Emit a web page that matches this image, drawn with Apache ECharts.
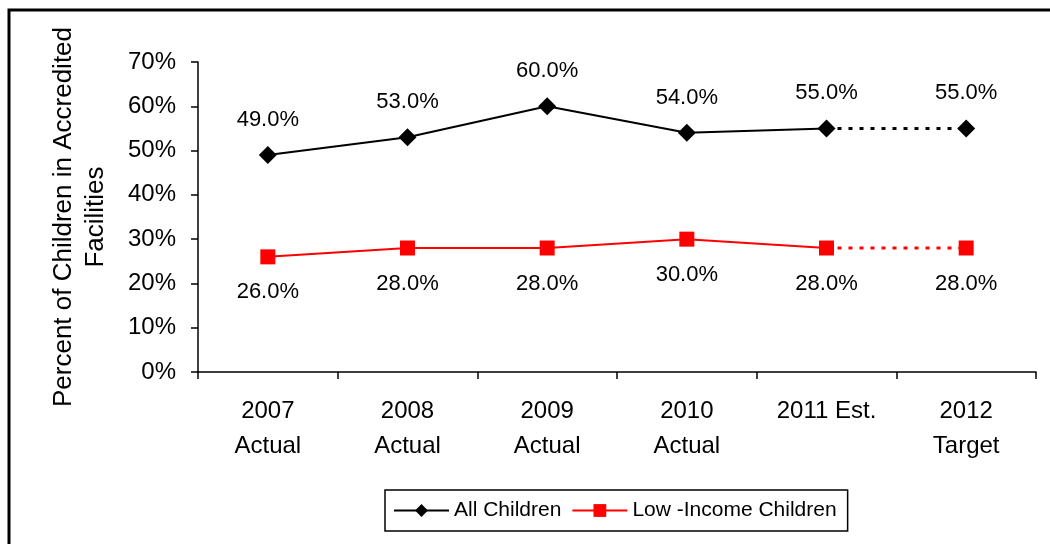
<!DOCTYPE html>
<html>
<head>
<meta charset="utf-8">
<script src="https://cdn.jsdelivr.net/npm/echarts@6/dist/echarts.min.js"></script>
<style>
html,body{margin:0;padding:0;background:#fff;}
#c{width:1050px;height:544px;}
</style>
</head>
<body>
<div id="c"></div>
<script>
var categories = ['2007\nActual', '2008\nActual', '2009\nActual', '2010\nActual', '2011 Est.', '2012\nTarget'];
var allChildren = [49.0, 53.0, 60.0, 54.0, 55.0, 55.0];
var lowIncome = [26.0, 28.0, 28.0, 30.0, 28.0, 28.0];
var yTicks = {min: 0, max: 70, interval: 10};
var seriesNames = ['All Children', 'Low -Income Children'];

var FONT = "'Liberation Sans', Arial, sans-serif";
var solidCount = 5; // actual + estimate points drawn with a solid line

function solidPart(arr) {
  return arr.map(function (v, i) { return i < solidCount ? v : '-'; });
}
function dottedPart(arr) {
  return arr.map(function (v, i) {
    if (i < solidCount - 1) return '-';
    if (i === solidCount - 1) return {value: v, symbol: 'none', label: {show: false}};
    return v;
  });
}
function fmt(p) { return Number(p.value).toFixed(1) + '%'; }

var labelBase = {show: true, formatter: fmt, fontFamily: FONT, fontSize: 22, color: '#000'};

var chart = echarts.init(document.getElementById('c'), null, {renderer: 'canvas'});
chart.setOption({
  animation: false,
  backgroundColor: '#fff',
  graphic: [{
    type: 'rect', z: -1,
    shape: {x: 9, y: 10, width: 1200, height: 700},
    style: {fill: 'none', stroke: '#000', lineWidth: 3}
  }],
  grid: {left: 198, right: 14, top: 62, bottom: 172},
  legend: {
    data: seriesNames,
    left: 385, top: 490,
    padding: [10, 11, 10, 8],
    itemGap: 10,
    itemWidth: 55, itemHeight: 16,
    borderColor: '#000', borderWidth: 1.5,
    textStyle: {fontFamily: FONT, fontSize: 21, color: '#000'}
  },
  xAxis: {
    type: 'category',
    data: categories,
    boundaryGap: true,
    axisLine: {lineStyle: {color: '#000', width: 1.5}},
    axisTick: {show: true, length: 7, lineStyle: {color: '#000', width: 1.5}},
    axisLabel: {fontFamily: FONT, fontSize: 24, color: '#000', margin: 22, lineHeight: 35, interval: 0}
  },
  yAxis: {
    type: 'value',
    min: yTicks.min, max: yTicks.max, interval: yTicks.interval,
    name: 'Percent of Children in Accredited\nFacilities',
    nameLocation: 'middle', nameRotate: 90, nameGap: 86,
    nameTextStyle: {fontFamily: FONT, fontSize: 26, color: '#000', lineHeight: 32, align: 'center'},
    axisLine: {show: true, lineStyle: {color: '#000', width: 1.5}},
    axisTick: {show: true, length: 7, lineStyle: {color: '#000', width: 1.5}},
    splitLine: {show: false},
    axisLabel: {fontFamily: FONT, fontSize: 24, color: '#000', margin: 22, formatter: '{value}%'}
  },
  series: [
    {
      name: seriesNames[0], type: 'line', data: solidPart(allChildren),
      symbol: 'diamond', symbolSize: 18,
      itemStyle: {color: '#000'}, lineStyle: {color: '#000', width: 2},
      label: Object.assign({position: 'top', distance: 15}, labelBase), z: 3
    },
    {
      name: seriesNames[0] + ' target', type: 'line', data: dottedPart(allChildren),
      symbol: 'diamond', symbolSize: 18,
      itemStyle: {color: '#000'}, lineStyle: {color: '#000', width: 3, type: [4, 7]},
      label: Object.assign({position: 'top', distance: 15}, labelBase), z: 2
    },
    {
      name: seriesNames[1], type: 'line', data: solidPart(lowIncome),
      symbol: 'rect', symbolSize: 15,
      itemStyle: {color: '#ff0000'}, lineStyle: {color: '#ff0000', width: 2},
      label: Object.assign({position: 'bottom', distance: 17}, labelBase), z: 3
    },
    {
      name: seriesNames[1] + ' target', type: 'line', data: dottedPart(lowIncome),
      symbol: 'rect', symbolSize: 15,
      itemStyle: {color: '#ff0000'}, lineStyle: {color: '#ff0000', width: 3, type: [4, 7]},
      label: Object.assign({position: 'bottom', distance: 17}, labelBase), z: 2
    }
  ]
});
</script>
</body>
</html>
